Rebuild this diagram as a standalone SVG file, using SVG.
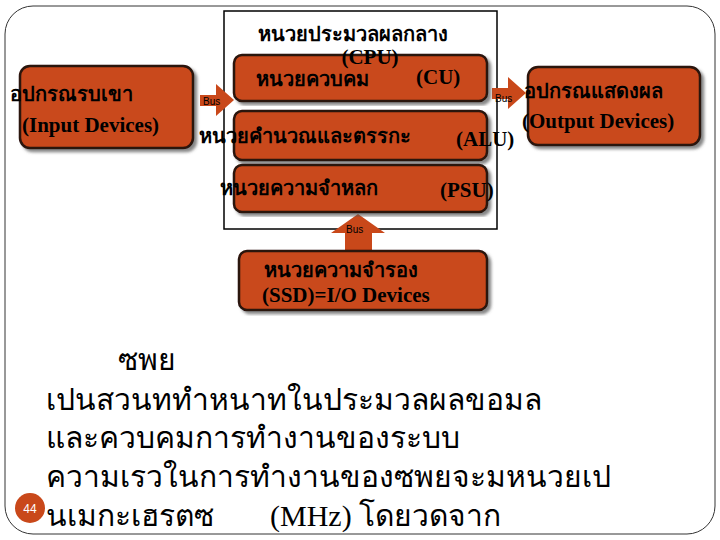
<svg xmlns="http://www.w3.org/2000/svg" width="720" height="540" viewBox="0 0 720 540">
<style>
.box{fill:#c9481a;stroke:#2a1208;stroke-width:2.5}
.t{font-family:"Noto Sans","Liberation Serif",serif;font-weight:bold;fill:#000;font-size:20px}
.s{font-family:"Liberation Serif","Noto Sans",serif;font-weight:bold;fill:#000;font-size:21px}
.b{font-family:"Liberation Sans",sans-serif;font-size:10px;fill:#000}
.arr{fill:#c9481a}
.body{font-family:"Noto Sans","Liberation Serif",serif;font-size:30px;fill:#000}
</style>
<defs><filter id="sh"><feDropShadow dx="3" dy="3" stdDeviation="1.5" flood-color="#555" flood-opacity="0.7"/></filter></defs>
<rect x="5" y="6" width="710" height="528" rx="28" fill="#fff" stroke="#333" stroke-width="1"/>
<g id="cpu"><rect x="224" y="11" width="273" height="218" fill="none" stroke="#000" stroke-width="1.5"/>
<text class="t" x="353" y="41" font-size="22" text-anchor="middle">หนวยประมวลผลกลาง</text></g>
<g id="connectors">
<polygon class="arr" points="200,95 216,95 216,84 234,100 216,116 216,106 200,106"/>
<text class="b" x="203" y="105">Bus</text>
<polygon class="arr" points="492,88 508,88 508,77 526,93 508,109 508,99 492,99"/>
<text class="b" x="495" y="102">Bus</text>
<polygon class="arr" points="345,250 345,233 331,233 358,214 385,233 372,233 372,250"/>
<text class="b" x="346" y="233">Bus</text>
</g>
<g id="cu"><rect class="box" filter="url(#sh)" x="234" y="55" width="253" height="46" rx="8"/>
<text class="s" x="370" y="64" text-anchor="middle">(CPU)</text>
<text class="t" x="256" y="86">หนวยควบคม</text><text class="s" x="416" y="84">(CU)</text></g>
<g id="alu"><rect class="box" filter="url(#sh)" x="234" y="111" width="253" height="49" rx="8"/>
<text class="t" x="199" y="143">หนวยคำนวณและตรรกะ</text><text class="s" x="456" y="146">(ALU)</text></g>
<g id="psu"><rect class="box" filter="url(#sh)" x="234" y="165" width="253" height="47" rx="8"/>
<text class="t" x="220" y="195">หนวยความจำหลก</text><text class="s" x="440" y="197">(PSU)</text></g>
<g id="input"><rect class="box" filter="url(#sh)" x="20" y="66" width="173" height="82" rx="10"/>
<text class="t" x="10" y="101">อปกรณรบเขา</text><text class="s" x="22" y="132">(Input Devices)</text></g>
<g id="output"><rect class="box" filter="url(#sh)" x="528" y="67" width="172" height="78" rx="10"/>
<text class="t" x="524" y="98">อปกรณแสดงผล</text><text class="s" x="522" y="128">(Output Devices)</text></g>
<g id="ssd"><rect class="box" filter="url(#sh)" x="239" y="251" width="248" height="59" rx="8"/>
<text class="t" x="264" y="277">หนวยความจำรอง</text><text class="s" x="262" y="302">(SSD)=I/O Devices</text></g>
<g id="text">
<text class="body" x="118" y="370">ซพย</text>
<text class="body" x="46" y="410">เปนสวนททำหนาทในประมวลผลขอมล</text>
<text class="body" x="46" y="448">และควบคมการทำงานของระบบ</text>
<text class="body" x="46" y="487">ความเรวในการทำงานของซพยจะมหนวยเป</text>
<text class="body" x="46" y="526">นเมกะเฮรตซ</text>
<text class="body" x="270" y="526" style="font-family:'Liberation Serif','Noto Sans',serif">(MHz) โดยวดจาก</text>
<circle cx="30" cy="508" r="15" fill="#c9481a"/>
<text x="30" y="513" font-family="Liberation Sans" font-size="12" fill="#fff" text-anchor="middle">44</text>
</g>
</svg>
